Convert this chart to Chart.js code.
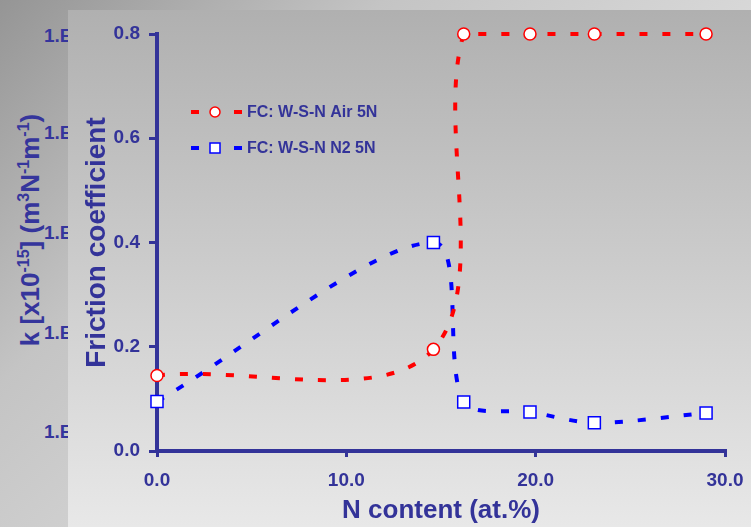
<!DOCTYPE html>
<html lang="en">
<head>
<meta charset="UTF-8">
<title>Friction coefficient vs N content</title>
<script src="https://cdn.jsdelivr.net/npm/chart.js"></script>
<style>
    html, body { margin: 0; padding: 0; }
    body {
        width: 751px; height: 527px; position: relative; overflow: hidden;
        background: linear-gradient(135deg, #959595 0%, #c4c4c4 30%, #d8d8d8 60%, #e2e2e2 100%);
        font-family: 'Liberation Sans', Arial, sans-serif;
    }
    .k-ticks span { position: absolute; left: 44px; font-weight: bold; font-size: 19px; line-height: 19px; color: #35359c; }
    .k-title {
        position: absolute; left: 30px; top: 230px; white-space: nowrap;
        transform: translate(-50%, -50%) rotate(-90deg);
        font-weight: bold; font-size: 26px; line-height: 30px; color: #35359c;
    }
    .k-title sup { font-size: 16px; vertical-align: 10px; line-height: 0; }
    .panel { position: absolute; left: 68px; top: 10px; right: 0; bottom: 0; background: linear-gradient(#b0b0b0, #e8e8e8); }
    canvas { position: absolute; left: 0; top: 0; }
</style>
</head>
<body>
    <div class="k-ticks">
        <span style="top: 26px">1.E</span>
        <span style="top: 123px">1.E</span>
        <span style="top: 223px">1.E</span>
        <span style="top: 323px">1.E</span>
        <span style="top: 422px">1.E</span>
    </div>
    <div class="k-title">k [x10<sup>-15</sup>] (m<sup>3</sup>N<sup>-1</sup>m<sup>-1</sup>)</div>
    <div class="panel"></div>
    <canvas id="fc-chart" width="751" height="527"></canvas>

    <script>
        // N content (at.%) and friction coefficient
        const airX = [0, 14.6, 16.2, 19.7, 23.1, 29.0];
        const airFC = [0.145, 0.195, 0.8, 0.8, 0.8, 0.8];
        const n2X = [0, 14.6, 16.2, 19.7, 23.1, 29.0];
        const n2FC = [0.095, 0.4, 0.094, 0.075, 0.054, 0.073];
        const seriesNames = ['FC: W-S-N Air 5N', 'FC: W-S-N N2 5N'];
        const xTicks = [0, 10, 20, 30];
        const yTicks = [0, 0.2, 0.4, 0.6, 0.8];

        const axisColor = '#333399';
        const fontFamily = "'Liberation Sans', Arial, sans-serif";

        function toPoints(xs, ys) {
            return xs.map((x, i) => ({ x: x, y: ys[i] }));
        }

        // legend drawn inside the plot area, like the original
        const insideLegend = {
            id: 'insideLegend',
            afterDatasetsDraw(chart) {
                const ctx = chart.ctx;
                chart.data.datasets.forEach((ds, i) => {
                    const y = 112 + i * 36;
                    ctx.save();
                    ctx.strokeStyle = ds.borderColor;
                    ctx.lineWidth = ds.borderWidth;
                    ctx.beginPath();
                    ctx.moveTo(191, y); ctx.lineTo(199, y);
                    ctx.moveTo(234, y); ctx.lineTo(242, y);
                    ctx.stroke();

                    ctx.fillStyle = ds.pointBackgroundColor;
                    ctx.strokeStyle = ds.pointBorderColor;
                    ctx.lineWidth = ds.pointBorderWidth;
                    ctx.beginPath();
                    if (ds.pointStyle === 'rect') {
                        ctx.rect(210, y - 5, 10, 10);
                    } else {
                        ctx.arc(215, y, 5, 0, Math.PI * 2);
                    }
                    ctx.fill();
                    ctx.stroke();

                    ctx.fillStyle = axisColor;
                    ctx.font = 'bold 16px ' + fontFamily;
                    ctx.textBaseline = 'middle';
                    ctx.fillText(seriesNames[i], 247, y + 1);
                    ctx.restore();
                });
            }
        };

        new Chart(document.getElementById('fc-chart'), {
            type: 'scatter',
            data: {
                datasets: [
                    {
                        label: seriesNames[0],
                        data: toPoints(airX, airFC),
                        showLine: true,
                        tension: 0.35,
                        borderColor: '#ff0000',
                        borderWidth: 4,
                        borderDash: [8, 15],
                        pointStyle: 'circle',
                        pointRadius: 6,
                        pointBorderWidth: 1.5,
                        pointBorderColor: '#ff0000',
                        pointBackgroundColor: '#ffffff',
                        clip: false
                    },
                    {
                        label: seriesNames[1],
                        data: toPoints(n2X, n2FC),
                        showLine: true,
                        tension: 0.3,
                        borderColor: '#0000ff',
                        borderWidth: 4,
                        borderDash: [8, 15],
                        pointStyle: 'rect',
                        pointRadius: 8.5,
                        pointBorderWidth: 1.5,
                        pointBorderColor: '#0000ff',
                        pointBackgroundColor: '#ffffff',
                        clip: false
                    }
                ]
            },
            options: {
                responsive: false,
                animation: false,
                devicePixelRatio: 1,
                layout: { padding: { top: 34, right: 26, left: 0, bottom: 0 } },
                plugins: { legend: { display: false }, tooltip: { enabled: false } },
                scales: {
                    x: {
                        type: 'linear', min: 0, max: 30,
                        afterBuildTicks: s => { s.ticks = xTicks.map(v => ({ value: v })); },
                        afterFit: s => { s.height = 76; s.paddingLeft = 0; s.paddingRight = 0; },
                        ticks: {
                            padding: 12, color: axisColor,
                            font: { family: fontFamily, size: 19, weight: 'bold' },
                            callback: v => v.toFixed(1)
                        },
                        grid: { drawOnChartArea: false, drawTicks: true, tickLength: 6, color: axisColor, lineWidth: 3 },
                        border: { color: axisColor, width: 4 },
                        title: {
                            display: true, text: 'N content (at.%)', color: axisColor,
                            font: { family: fontFamily, size: 26, weight: 'bold' },
                            padding: { top: 0, bottom: 1 }
                        }
                    },
                    y: {
                        type: 'linear', min: 0, max: 0.8,
                        afterBuildTicks: s => { s.ticks = yTicks.map(v => ({ value: v })); },
                        afterFit: s => { s.width = 157; s.paddingTop = 0; s.paddingBottom = 0; },
                        ticks: {
                            padding: 9, color: axisColor,
                            font: { family: fontFamily, size: 19, weight: 'bold' },
                            callback: v => v.toFixed(1)
                        },
                        grid: { drawOnChartArea: false, drawTicks: true, tickLength: 8, color: axisColor, lineWidth: 3 },
                        border: { color: axisColor, width: 4 },
                        title: {
                            display: true, text: 'Friction coefficient', color: axisColor,
                            font: { family: fontFamily, size: 28, weight: 'bold' },
                            padding: { top: 80, bottom: 0 }
                        }
                    }
                }
            },
            plugins: [insideLegend]
        });
    </script>
</body>
</html>
